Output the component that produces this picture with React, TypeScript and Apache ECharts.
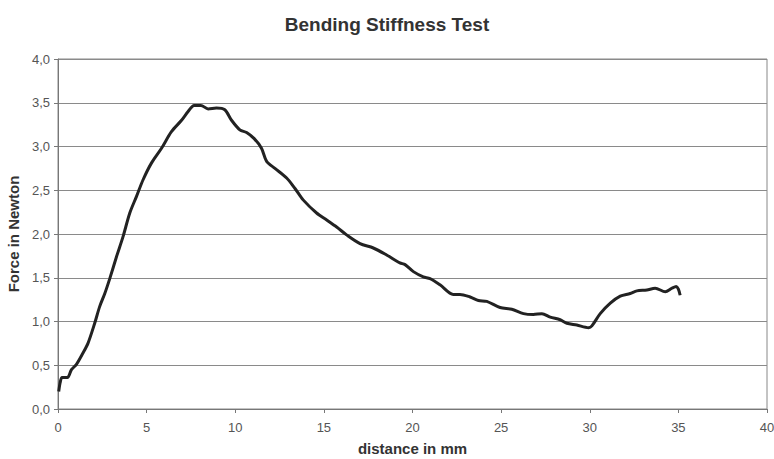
import React, { useEffect, useRef } from "react";
import * as echarts from "echarts";

const distance = [0.04, 0.12, 0.23, 0.53, 0.76, 1.04, 1.41, 1.69, 2.07, 2.35, 2.64, 2.92, 3.3, 3.67, 4.05, 4.43, 4.8, 5.27, 5.84, 6.4, 6.97, 7.34, 7.68, 8.06, 8.47, 8.94, 9.41, 9.79, 10.26, 10.64, 11.07, 11.48, 11.77, 12.24, 12.9, 13.37, 13.83, 14.59, 15.16, 15.72, 16.28, 17.04, 17.79, 18.54, 19.29, 19.58, 20.05, 20.61, 20.99, 21.55, 22.3, 22.68, 23.25, 23.72, 24.19, 24.94, 25.6, 26.26, 26.82, 27.3, 27.77, 28.33, 28.71, 29.27, 29.93, 30.12, 30.59, 31.16, 31.72, 32.28, 32.66, 33.22, 33.69, 34.26, 34.63, 34.88, 35.0, 35.1];
const force = [0.2, 0.3, 0.36, 0.36, 0.45, 0.51, 0.64, 0.75, 0.98, 1.17, 1.32, 1.49, 1.74, 1.97, 2.24, 2.43, 2.62, 2.81, 2.98, 3.17, 3.3, 3.4, 3.47, 3.47, 3.43, 3.44, 3.42, 3.3, 3.19, 3.16, 3.09, 2.98, 2.83, 2.75, 2.64, 2.52, 2.39, 2.24, 2.16, 2.08, 1.99, 1.89, 1.84, 1.76, 1.67, 1.65, 1.57, 1.51, 1.49, 1.42, 1.31, 1.31, 1.28, 1.24, 1.23, 1.16, 1.14, 1.09, 1.08, 1.09, 1.05, 1.02, 0.98, 0.96, 0.93, 0.95, 1.09, 1.21, 1.29, 1.32, 1.35, 1.36, 1.38, 1.34, 1.38, 1.4, 1.37, 1.3];

const titleText = "Bending Stiffness Test";
const xName = "distance in mm";
const yName = "Force in Newton";
const font = "Arial, 'Liberation Sans', Helvetica, sans-serif";

export default function App() {
  const ref = useRef<HTMLDivElement>(null);
  useEffect(() => {
    document.body.style.margin = "0";
    document.body.style.overflow = "hidden";
    const chart = echarts.init(ref.current!, null, { renderer: "svg", width: 774, height: 459 });
    const data = distance.map((d, i) => [d, force[i]]);
    chart.setOption({
      animation: false,
      backgroundColor: "#fff",
      title: {
        text: titleText,
        left: "center",
        top: 10,
        textStyle: { fontFamily: font, fontSize: 19, fontWeight: "bold", color: "#333" },
      },
      grid: {
        left: 58,
        right: 7,
        top: 59,
        bottom: 50,
        containLabel: false,
        outerBoundsMode: "none",
        show: true,
        borderColor: "#888",
        borderWidth: 1,
      },
      xAxis: {
        type: "value",
        min: 0,
        max: 40,
        interval: 5,
        name: xName,
        nameLocation: "middle",
        nameGap: 32,
        nameTextStyle: { fontFamily: font, fontSize: 15, fontWeight: "bold", color: "#333" },
        axisLine: { show: true, lineStyle: { color: "#777", width: 1 } },
        axisTick: { show: true, length: 4, lineStyle: { color: "#777" } },
        axisLabel: { fontFamily: font, fontSize: 13, color: "#555", margin: 12 },
        splitLine: { show: false },
      },
      yAxis: {
        type: "value",
        min: 0,
        max: 4,
        interval: 0.5,
        name: yName,
        nameLocation: "middle",
        nameGap: 35,
        nameTextStyle: { fontFamily: font, fontSize: 15, fontWeight: "bold", color: "#333" },
        axisLine: { show: true, lineStyle: { color: "#777", width: 1 } },
        axisTick: { show: true, length: 4, lineStyle: { color: "#777" } },
        axisLabel: {
          fontFamily: font,
          fontSize: 13,
          color: "#555",
          margin: 8,
          formatter: (v: number) => v.toFixed(1).replace(".", ","),
        },
        splitLine: { show: true, lineStyle: { color: "#8a8a8a", width: 1 } },
      },
      series: [
        {
          type: "line",
          data,
          smooth: 0.3,
          showSymbol: false,
          lineStyle: { color: "#222", width: 3 },
        },
      ],
    });
    return () => chart.dispose();
  }, []);
  return <div ref={ref} style={{ width: 774, height: 459 }} />;
}
